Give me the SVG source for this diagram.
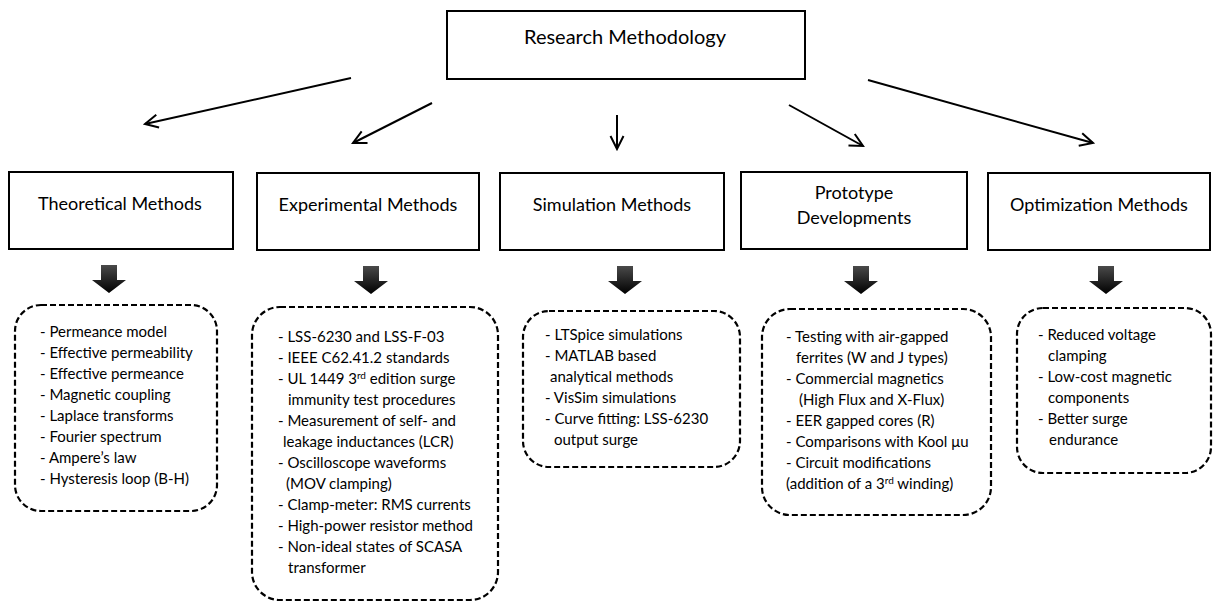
<svg xmlns="http://www.w3.org/2000/svg" width="1213" height="601" viewBox="0 0 1213 601">
<style>
.box{fill:#fff;stroke:#000;stroke-width:2}
.dash{fill:#fff;stroke:#000;stroke-width:2.2;stroke-dasharray:6 3}
.title{font-family:Lato,"Open Sans",sans-serif;font-size:18px;fill:#000;text-anchor:middle}
.item{font-family:Lato,"Open Sans",sans-serif;font-size:15px;fill:#000}
.conn{stroke:#000;stroke-width:2;fill:none}
.sup{font-size:10px}
</style>
<defs>
<marker id="oa" viewBox="0 0 16 16" refX="14" refY="8" markerWidth="16" markerHeight="16" markerUnits="userSpaceOnUse" orient="auto">
<path d="M1,1.5 L14,8 L1,14.5" fill="none" stroke="#000" stroke-width="2"/>
</marker>
<linearGradient id="bg" x1="0" y1="0" x2="0" y2="1">
<stop offset="0" stop-color="#4a4a4a"/>
<stop offset="1" stop-color="#000"/>
</linearGradient>
<path id="ba" d="M-8,0 L8,0 L8,15 L17,15 L0,28 L-17,15 L-8,15 Z" fill="url(#bg)"/>
</defs>
<rect width="1213" height="601" fill="#fff"/>

<g id="connectors">
<line class="conn" x1="351" y1="78" x2="145" y2="124" marker-end="url(#oa)"/>
<line class="conn" x1="432" y1="103" x2="353" y2="143" marker-end="url(#oa)"/>
<line class="conn" x1="617" y1="115" x2="617" y2="149" marker-end="url(#oa)"/>
<line class="conn" x1="789" y1="105" x2="863" y2="146" marker-end="url(#oa)"/>
<line class="conn" x1="868" y1="80" x2="1093" y2="143" marker-end="url(#oa)"/>
<use href="#ba" x="109" y="265"/>
<use href="#ba" x="371" y="266"/>
<use href="#ba" x="625" y="266"/>
<use href="#ba" x="861" y="266"/>
<use href="#ba" x="1106" y="266"/>
</g>

<g id="research-methodology">
<rect class="box" x="447" y="11" width="358" height="68"/>
<text class="title" x="625" y="44" style="font-size:20px">Research Methodology</text>
</g>

<g id="theoretical-methods">
<rect class="box" x="9" y="172" width="224" height="77"/>
<text class="title" x="120" y="210">Theoretical Methods</text>
</g>
<g id="experimental-methods">
<rect class="box" x="257" y="173" width="222" height="77"/>
<text class="title" x="368" y="211">Experimental Methods</text>
</g>
<g id="simulation-methods">
<rect class="box" x="500" y="173" width="224" height="77"/>
<text class="title" x="612" y="211">Simulation Methods</text>
</g>
<g id="prototype-developments">
<rect class="box" x="741" y="172" width="226" height="77"/>
<text class="title" x="854" y="199">Prototype</text>
<text class="title" x="854" y="224">Developments</text>
</g>
<g id="optimization-methods">
<rect class="box" x="988" y="173" width="222" height="77"/>
<text class="title" x="1099" y="211">Optimization Methods</text>
</g>

<g id="theoretical-details">
<rect class="dash" x="15" y="305" width="202" height="206" rx="26"/>
<text class="item" x="40" y="337">- Permeance model</text>
<text class="item" x="40" y="358">- Effective permeability</text>
<text class="item" x="40" y="379">- Effective permeance</text>
<text class="item" x="40" y="400">- Magnetic coupling</text>
<text class="item" x="40" y="421">- Laplace transforms</text>
<text class="item" x="40" y="442">- Fourier spectrum</text>
<text class="item" x="40" y="463">- Ampere’s law</text>
<text class="item" x="40" y="484">- Hysteresis loop (B-H)</text>
</g>

<g id="experimental-details">
<rect class="dash" x="252" y="307" width="246" height="293" rx="28"/>
<text class="item" x="278" y="342">- LSS-6230 and LSS-F-03</text>
<text class="item" x="278" y="363">- IEEE C62.41.2 standards</text>
<text class="item" x="278" y="384">- UL 1449 3<tspan class="sup" dy="-5">rd</tspan><tspan dy="5"> edition surge</tspan></text>
<text class="item" x="288" y="405">immunity test procedures</text>
<text class="item" x="278" y="426">- Measurement of self- and</text>
<text class="item" x="283" y="447">leakage inductances (LCR)</text>
<text class="item" x="278" y="468">- Oscilloscope waveforms</text>
<text class="item" x="286" y="489">(MOV clamping)</text>
<text class="item" x="278" y="510">- Clamp-meter: RMS currents</text>
<text class="item" x="278" y="531">- High-power resistor method</text>
<text class="item" x="278" y="552">- Non-ideal states of SCASA</text>
<text class="item" x="288" y="573">transformer</text>
</g>

<g id="simulation-details">
<rect class="dash" x="523" y="311" width="217" height="156" rx="26"/>
<text class="item" x="545" y="340">- LTSpice simulations</text>
<text class="item" x="545" y="361">- MATLAB based</text>
<text class="item" x="550" y="382">analytical methods</text>
<text class="item" x="545" y="403">- VisSim simulations</text>
<text class="item" x="545" y="424">- Curve fitting: LSS-6230</text>
<text class="item" x="554" y="445">output surge</text>
</g>

<g id="prototype-details">
<rect class="dash" x="762" y="309" width="229" height="206" rx="28"/>
<text class="item" x="786" y="342">- Testing with air-gapped</text>
<text class="item" x="796" y="363">ferrites (W and J types)</text>
<text class="item" x="786" y="384">- Commercial magnetics</text>
<text class="item" x="799" y="405">(High Flux and X-Flux)</text>
<text class="item" x="786" y="426">- EER gapped cores (R)</text>
<text class="item" x="786" y="447">- Comparisons with Kool μu</text>
<text class="item" x="786" y="468">- Circuit modifications</text>
<text class="item" x="786" y="489">(addition of a 3<tspan class="sup" dy="-5">rd</tspan><tspan dy="5"> winding)</tspan></text>
</g>

<g id="optimization-details">
<rect class="dash" x="1017" y="308" width="194" height="165" rx="26"/>
<text class="item" x="1038" y="340">- Reduced voltage</text>
<text class="item" x="1048" y="361">clamping</text>
<text class="item" x="1038" y="382">- Low-cost magnetic</text>
<text class="item" x="1048" y="403">components</text>
<text class="item" x="1038" y="424">- Better surge</text>
<text class="item" x="1049" y="445">endurance</text>
</g>
</svg>
